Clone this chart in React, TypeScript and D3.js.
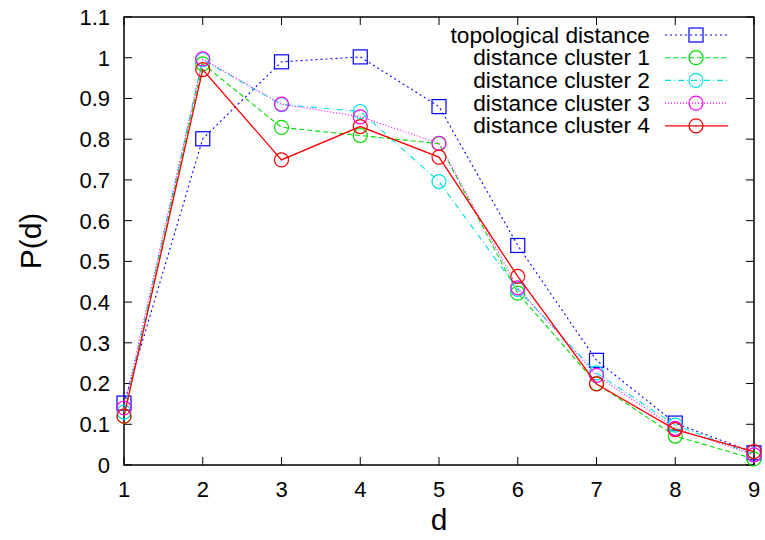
import React from "react";
import * as d3 from "d3";

const dValues = [1, 2, 3, 4, 5, 6, 7, 8, 9];
const topological = [0.152, 0.801, 0.99, 1.002, 0.88, 0.539, 0.257, 0.103, 0.03];
const cluster1 = [0.12, 0.985, 0.829, 0.809, 0.789, 0.422, 0.2, 0.071, 0.015];
const cluster2 = [0.13, 0.995, 0.885, 0.868, 0.696, 0.431, 0.226, 0.098, 0.025];
const cluster3 = [0.14, 0.997, 0.886, 0.855, 0.79, 0.435, 0.22, 0.09, 0.025];
const cluster4 = [0.12, 0.971, 0.749, 0.831, 0.756, 0.463, 0.199, 0.087, 0.033];
const seriesNames = [
  "topological distance",
  "distance cluster 1",
  "distance cluster 2",
  "distance cluster 3",
  "distance cluster 4",
];
const yTicks = [0, 0.1, 0.2, 0.3, 0.4, 0.5, 0.6, 0.7, 0.8, 0.9, 1, 1.1];
const xTicks = [1, 2, 3, 4, 5, 6, 7, 8, 9];

const W = 765;
const H = 540;
const left = 124;
const right = 754;
const top = 17;
const bottom = 465;

const styles = [
  { color: "#0000ff", dash: "2,3", marker: "square", width: 1.1 },
  { color: "#00dd00", dash: "5,3", marker: "circle", width: 1.1 },
  { color: "#00e0e0", dash: "6,3,1,3", marker: "circle", width: 1.1 },
  { color: "#ff00ff", dash: "1,2", marker: "circle", width: 1.1 },
  { color: "#ff0000", dash: "", marker: "circle", width: 1.3 },
];

export default function App() {
  const x = d3.scaleLinear().domain([1, 9]).range([left, right]);
  const y = d3.scaleLinear().domain([0, 1.1]).range([bottom, top]);
  const data = [topological, cluster1, cluster2, cluster3, cluster4];
  const line = d3
    .line<number>()
    .x((_, i) => x(dValues[i]))
    .y((v) => y(v));
  const font = "'Liberation Sans', Arial, sans-serif";

  const marker = (kind: string, cx: number, cy: number, color: string, key: any) =>
    kind === "square" ? (
      <rect key={key} x={cx - 7} y={cy - 7} width={14} height={14} fill="none" stroke={color} strokeWidth={1.2} />
    ) : (
      <circle key={key} cx={cx} cy={cy} r={7} fill="none" stroke={color} strokeWidth={1.2} />
    );

  const legendX = 650;
  const legendRowY = (i: number) => 35 + i * 22.7;

  return (
    <svg width={W} height={H} style={{ position: "absolute", left: 0, top: 0, background: "#fff" }} fontFamily={font}>
      {/* ticks */}
      {yTicks.map((t) => (
        <g key={"y" + t}>
          <line x1={left} x2={left + 8} y1={y(t)} y2={y(t)} stroke="#000" strokeWidth={1} />
          <line x1={right} x2={right - 8} y1={y(t)} y2={y(t)} stroke="#000" strokeWidth={1} />
          <text x={110} y={y(t)} dy="0.36em" textAnchor="end" fontSize={22}>
            {d3.format("~g")(t)}
          </text>
        </g>
      ))}
      {xTicks.map((t) => (
        <g key={"x" + t}>
          <line x1={x(t)} x2={x(t)} y1={bottom} y2={bottom - 8} stroke="#000" strokeWidth={1} />
          <line x1={x(t)} x2={x(t)} y1={top} y2={top + 8} stroke="#000" strokeWidth={1} />
          <text x={x(t)} y={497} textAnchor="middle" fontSize={22}>
            {t}
          </text>
        </g>
      ))}
      <rect x={left} y={top} width={right - left} height={bottom - top} fill="none" stroke="#000" strokeWidth={1.5} />

      {/* series */}
      {data.map((vals, si) => (
        <g key={"s" + si}>
          <path
            d={line(vals) || ""}
            fill="none"
            stroke={styles[si].color}
            strokeWidth={styles[si].width}
            strokeDasharray={styles[si].dash || undefined}
          />
          {vals.map((v, i) => marker(styles[si].marker, x(dValues[i]), y(v), styles[si].color, i))}
        </g>
      ))}

      {/* legend */}
      {seriesNames.map((name, i) => (
        <g key={"l" + i}>
          <text
            transform={`translate(${legendX}, ${legendRowY(i)}) scale(1.12, 1.05)`}
            x={0}
            y={0}
            dy="0.36em"
            textAnchor="end"
            fontSize={20.3}
          >
            {name}
          </text>
          <line
            x1={665}
            x2={728}
            y1={legendRowY(i)}
            y2={legendRowY(i)}
            stroke={styles[i].color}
            strokeWidth={styles[i].width}
            strokeDasharray={styles[i].dash || undefined}
          />
          {marker(styles[i].marker, 696, legendRowY(i), styles[i].color, "m")}
        </g>
      ))}

      {/* axis labels */}
      <text x={(left + right) / 2} y={530} textAnchor="middle" fontSize={30}>
        d
      </text>
      <text transform={`translate(41, 241) rotate(-90)`} textAnchor="middle" fontSize={30}>
        P(d)
      </text>
    </svg>
  );
}
